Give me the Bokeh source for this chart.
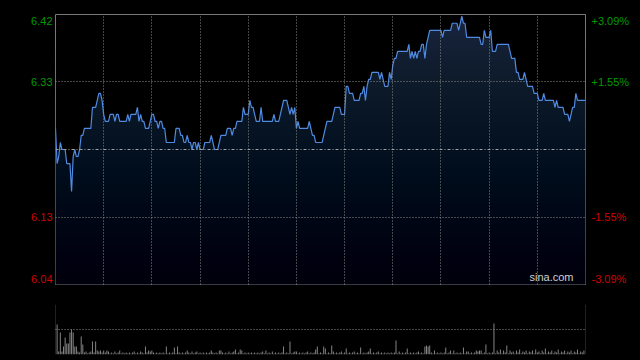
import numpy as np
from bokeh.plotting import figure
from bokeh.layouts import column, row
from bokeh.models import Range1d, FixedTicker, Label, Span, Grid, ColumnDataSource, GlobalInlineStyleSheet
from bokeh.core.properties import value
from bokeh.embed import file_html
from bokeh.resources import INLINE

# ---------------- data ----------------
prev_close = 6.23
axis_pct = [3.09, 1.55, -1.55, -3.09]   # right-axis tick labels (percent vs previous close)

prices = [
    6.26, 6.21, 6.22, 6.24, 6.23, 6.23, 6.23, 6.21, 6.21, 6.21,
    6.17, 6.22, 6.23, 6.22, 6.22, 6.23, 6.25, 6.25, 6.26, 6.26,
    6.26, 6.26, 6.26, 6.29, 6.29, 6.29, 6.30, 6.31, 6.31, 6.30,
    6.28, 6.27, 6.27, 6.27, 6.28, 6.28, 6.28, 6.27, 6.28, 6.28,
    6.27, 6.27, 6.27, 6.27, 6.27, 6.28, 6.27, 6.28, 6.28, 6.28,
    6.28, 6.29, 6.27, 6.28, 6.27, 6.27, 6.26, 6.26, 6.26, 6.27,
    6.28, 6.28, 6.27, 6.27, 6.26, 6.27, 6.27, 6.26, 6.26, 6.24,
    6.24, 6.24, 6.24, 6.24, 6.24, 6.26, 6.26, 6.26, 6.25, 6.25,
    6.24, 6.24, 6.25, 6.24, 6.24, 6.23, 6.24, 6.24, 6.23, 6.24,
    6.23, 6.23, 6.23, 6.24, 6.24, 6.24, 6.24, 6.25, 6.24, 6.23,
    6.23, 6.23, 6.24, 6.25, 6.25, 6.25, 6.25, 6.26, 6.26, 6.26,
    6.25, 6.26, 6.26, 6.27, 6.27, 6.27, 6.27, 6.29, 6.28, 6.28,
    6.28, 6.30, 6.29, 6.29, 6.28, 6.27, 6.27, 6.27, 6.29, 6.27,
    6.27, 6.27, 6.27, 6.27, 6.27, 6.27, 6.28, 6.27, 6.27, 6.27,
    6.28, 6.29, 6.30, 6.30, 6.30, 6.29, 6.28, 6.29, 6.28, 6.29,
    6.26, 6.27, 6.26, 6.26, 6.26, 6.26, 6.26, 6.26, 6.27, 6.26,
    6.25, 6.25, 6.24, 6.24, 6.24, 6.24, 6.24, 6.25, 6.26, 6.27,
    6.27, 6.27, 6.27, 6.28, 6.29, 6.29, 6.29, 6.29, 6.28, 6.28,
    6.28, 6.32, 6.32, 6.31, 6.31, 6.31, 6.30, 6.30, 6.30, 6.30,
    6.31, 6.31, 6.32, 6.30, 6.32, 6.33, 6.33, 6.34, 6.34, 6.34,
    6.34, 6.34, 6.33, 6.34, 6.33, 6.32, 6.32, 6.32, 6.34, 6.33,
    6.35, 6.36, 6.36, 6.37, 6.37, 6.37, 6.37, 6.37, 6.37, 6.37,
    6.38, 6.36, 6.37, 6.36, 6.37, 6.36, 6.37, 6.37, 6.38, 6.38,
    6.36, 6.38, 6.39, 6.40, 6.40, 6.40, 6.40, 6.40, 6.40, 6.40,
    6.40, 6.39, 6.40, 6.40, 6.40, 6.40, 6.40, 6.41, 6.41, 6.41,
    6.41, 6.40, 6.41, 6.42, 6.41, 6.41, 6.39, 6.39, 6.39, 6.39,
    6.39, 6.39, 6.39, 6.39, 6.39, 6.38, 6.38, 6.40, 6.39, 6.39,
    6.39, 6.40, 6.37, 6.37, 6.37, 6.38, 6.38, 6.38, 6.38, 6.38,
    6.38, 6.38, 6.38, 6.37, 6.36, 6.36, 6.36, 6.34, 6.34, 6.33,
    6.33, 6.33, 6.34, 6.33, 6.32, 6.32, 6.32, 6.32, 6.31, 6.31,
    6.31, 6.30, 6.30, 6.30, 6.31, 6.30, 6.30, 6.30, 6.30, 6.30,
    6.30, 6.29, 6.30, 6.29, 6.29, 6.29, 6.29, 6.28, 6.28, 6.28,
    6.27, 6.28, 6.29, 6.29, 6.31, 6.30, 6.30, 6.30, 6.30, 6.30,
    6.30,
]

volumes = [
    500, 300, 30, 220, 30, 80, 170, 110, 110, 220,
    250, 220, 80, 80, 30, 20, 180, 100, 20, 30,
    10, 20, 30, 130, 20, 130, 40, 30, 40, 20,
    40, 20, 40, 30, 10, 20, 10, 30, 10, 20,
    40, 10, 20, 10, 20, 10, 20, 10, 20, 30,
    10, 20, 10, 30, 20, 10, 80, 20, 40, 30,
    40, 20, 10, 20, 10, 20, 10, 20, 10, 80,
    10, 20, 10, 20, 70, 10, 80, 20, 10, 20,
    10, 20, 40, 20, 10, 30, 10, 20, 30, 10,
    20, 10, 20, 10, 20, 10, 20, 40, 20, 10,
    20, 10, 40, 40, 20, 10, 20, 10, 30, 10,
    20, 30, 50, 10, 20, 50, 40, 10, 20, 10,
    20, 10, 20, 10, 20, 10, 20, 10, 20, 30,
    10, 40, 10, 20, 10, 30, 10, 20, 10, 20,
    10, 20, 80, 10, 20, 10, 130, 10, 20, 30,
    30, 10, 20, 10, 20, 10, 20, 30, 10, 20,
    10, 20, 50, 80, 10, 20, 10, 80, 60, 10,
    20, 10, 90, 30, 10, 20, 10, 20, 30, 10,
    20, 60, 10, 20, 10, 20, 30, 10, 20, 10,
    70, 10, 20, 10, 20, 30, 60, 10, 20, 10,
    20, 30, 10, 20, 10, 20, 10, 20, 10, 20,
    10, 20, 140, 10, 30, 10, 20, 10, 20, 60,
    10, 20, 10, 20, 10, 20, 30, 10, 20, 10,
    80, 90, 80, 90, 20, 10, 40, 10, 20, 10,
    20, 10, 20, 70, 10, 20, 40, 10, 40, 10,
    20, 10, 20, 10, 70, 10, 30, 30, 10, 20,
    10, 20, 40, 30, 40, 40, 10, 20, 100, 10,
    20, 10, 20, 310, 10, 40, 20, 50, 10, 40,
    20, 90, 10, 40, 20, 30, 10, 40, 20, 50,
    10, 30, 20, 40, 10, 30, 20, 40, 10, 50,
    20, 30, 10, 40, 20, 60, 10, 30, 20, 40,
    10, 30, 20, 50, 10, 30, 20, 40, 10, 30,
    20, 40, 10, 30, 20, 50, 10, 30, 20, 40,
    500,
]

minutes = list(range(len(prices)))
half_hours = list(range(30, len(prices) - 1, 30))

# ---------------- derived scales ----------------
y_top = prev_close * (1 + axis_pct[0] / 100)
y_bot = prev_close * (1 + axis_pct[-1] / 100)
x_end = len(prices) - 1

src = ColumnDataSource(dict(m=minutes, p=prices, base=[y_bot] * len(prices), v=volumes))

GRID = "#8c8c8c"
FONT = "Liberation Sans"
COMMON = dict(output_backend="svg", toolbar_location=None, x_axis_location=None,
              y_axis_location=None, background_fill_color="black", border_fill_color="black",
              min_border_top=14, min_border_bottom=6)

# ---------------- main price panel ----------------
p = figure(width=532, height=290, x_range=Range1d(0, x_end), y_range=Range1d(y_bot, y_top),
           min_border_left=1, min_border_right=1,
           outline_line_color="#7a7a7a", outline_line_width=1, **COMMON)
p.center = []

p.varea(x="m", y1="base", y2="p", source=src, fill_color="#18253f")
n = 40
edges = np.linspace(y_bot, y_top, n + 1)[1:]
a = 1 - 0.38 ** (1.0 / n)
p.quad(left=0, right=x_end, bottom=y_bot, top=edges, fill_color="black", fill_alpha=a, line_color=None)

p.line(x="m", y="p", source=src, line_color="#4f8be2", line_width=1.2)

p.add_layout(Grid(dimension=0, ticker=FixedTicker(ticks=half_hours), grid_line_color=GRID,
                  grid_line_dash="1 2", level="guide"))
p.add_layout(Grid(dimension=1, ticker=FixedTicker(ticks=[prev_close * (1 + axis_pct[1] / 100),
                                                         prev_close * (1 + axis_pct[2] / 100)]),
                  grid_line_color=GRID, grid_line_dash="1 2", level="guide"))
p.add_layout(Span(location=prev_close, dimension="width", line_color="#a0a0a0",
                  line_dash="3 2 1 2", line_width=1, level="guide"))
p.add_layout(Label(x=x_end, y=y_bot, x_offset=-12, y_offset=2, text="sina.com",
                   text_align="right", text_baseline="bottom", text_color="#d0d0d0",
                   text_font=FONT, text_font_size="11px"))

# ---------------- tick label columns ----------------
vals = [prev_close * (1 + pct / 100) for pct in axis_pct]
cols = ["#009a00" if pct > 0 else "#d00000" for pct in axis_pct]
yoffs = [6 if i == 0 else (-6 if i == len(axis_pct) - 1 else 0) for i in range(len(axis_pct))]
lab_src = ColumnDataSource(dict(y=vals, price=[f"{v:.2f}" for v in vals],
                                pct=[f"{c:+.2f}%" for c in axis_pct], color=cols, yoff=yoffs))

L = figure(width=54, height=290, x_range=Range1d(0, 1), y_range=p.y_range,
           min_border_left=0, min_border_right=0, outline_line_color=None, **COMMON)
L.center = []
L.text(x=1, y="y", text="price", source=lab_src, x_offset=-2, y_offset="yoff",
       text_align="right", text_baseline="middle", text_color="color",
       text_font=value(FONT), text_font_size="11px")

R = figure(width=54, height=290, x_range=Range1d(0, 1), y_range=p.y_range,
           min_border_left=0, min_border_right=0, outline_line_color=None, **COMMON)
R.center = []
R.text(x=0, y="y", text="pct", source=lab_src, x_offset=5, y_offset="yoff",
       text_align="left", text_baseline="middle", text_color="color",
       text_font=value(FONT), text_font_size="11px")

# ---------------- volume panel ----------------
vmax = max(volumes)
q = figure(width=640, height=70, x_range=p.x_range, y_range=Range1d(0, vmax),
           min_border_left=55, min_border_right=55, outline_line_color=None, **COMMON)
q.center = []
q.vbar(x="m", top="v", width=0.6, source=src, fill_color="#8a8a8a", line_color=None)
q.add_layout(Grid(dimension=1, ticker=FixedTicker(ticks=[vmax, vmax / 2]), grid_line_color=GRID,
                  grid_line_dash="1 2", level="guide"))

layout = column(row(L, p, R, spacing=0), q, spacing=0)
layout.stylesheets = [GlobalInlineStyleSheet(css="html,body{margin:0;padding:0;background:#000;overflow:hidden;}")]
open("out.html", "w").write(file_html(layout, INLINE))
